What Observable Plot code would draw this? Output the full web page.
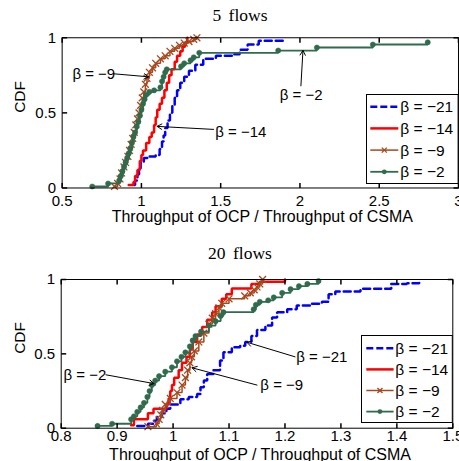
<!DOCTYPE html>
<html>
<head>
<meta charset="utf-8">
<script src="https://cdn.jsdelivr.net/npm/d3@7"></script>
<script src="https://cdn.jsdelivr.net/npm/@observablehq/plot@0.6"></script>
<style>
  html, body { margin: 0; padding: 0; background: #fff; overflow: hidden; width: 459px; height: 461px; }
  #page { position: relative; width: 459px; height: 461px; overflow: hidden; }
  .chart { position: absolute; left: 0; }
  .title { position: absolute; left: 0; width: 480px; text-align: center; line-height: 1;
           font-family: "Liberation Serif", "Times New Roman", serif; font-size: 17.5px; word-spacing: 3px; color: #000; }
  .legend { position: absolute; overflow: visible; }
</style>
</head>
<body>
<div id="page"></div>
<script>
// ---- Empirical CDF samples: [throughput ratio, cumulative fraction] ----

// 5 flows
const flows5_beta21 = [[0.955,0.02],[0.96,0.05],[0.975,0.09],[0.985,0.13],[0.995,0.17],[1.015,0.20],[1.05,0.21],[1.09,0.22],[1.115,0.26],[1.13,0.31],[1.14,0.35],[1.15,0.40],[1.165,0.45],[1.18,0.50],[1.195,0.55],[1.21,0.60],[1.225,0.65],[1.245,0.70],[1.27,0.74],[1.30,0.78],[1.34,0.82],[1.39,0.86],[1.47,0.88],[1.58,0.89],[1.62,0.92],[1.67,0.955],[1.74,0.98],[1.895,1.0]];
const flows5_beta14 = [[0.92,0.02],[0.95,0.04],[0.96,0.08],[0.975,0.12],[0.99,0.18],[1.0,0.22],[1.01,0.25],[1.03,0.30],[1.05,0.34],[1.065,0.37],[1.08,0.42],[1.09,0.47],[1.10,0.52],[1.115,0.56],[1.13,0.60],[1.145,0.65],[1.16,0.70],[1.175,0.75],[1.19,0.79],[1.21,0.84],[1.225,0.88],[1.245,0.91],[1.26,0.94],[1.275,0.97],[1.29,1.0]];
const flows5_beta9 = [[0.83,0.01],[0.85,0.03],[0.865,0.06],[0.875,0.10],[0.89,0.14],[0.90,0.17],[0.915,0.21],[0.925,0.25],[0.935,0.29],[0.945,0.33],[0.955,0.37],[0.965,0.42],[0.975,0.46],[0.985,0.50],[0.995,0.55],[1.005,0.60],[1.015,0.64],[1.025,0.69],[1.035,0.73],[1.05,0.77],[1.07,0.80],[1.09,0.83],[1.12,0.86],[1.15,0.88],[1.18,0.91],[1.21,0.93],[1.24,0.95],[1.27,0.965],[1.30,0.975],[1.33,0.99],[1.35,1.0]];
const flows5_beta2 = [[0.69,0.01],[0.79,0.03],[0.86,0.05],[0.87,0.08],[0.88,0.11],[0.89,0.14],[0.90,0.17],[0.91,0.20],[0.92,0.23],[0.93,0.26],[0.94,0.30],[0.95,0.34],[0.96,0.37],[0.97,0.41],[0.98,0.44],[0.99,0.48],[1.0,0.52],[1.01,0.56],[1.02,0.59],[1.03,0.62],[1.05,0.64],[1.08,0.65],[1.12,0.67],[1.13,0.71],[1.14,0.74],[1.15,0.77],[1.16,0.79],[1.25,0.81],[1.27,0.83],[1.31,0.85],[1.33,0.87],[1.365,0.90],[1.863,0.915],[2.107,0.935],[2.46,0.955],[2.806,0.97]];

// 20 flows
const flows20_beta21 = [[0.936,0.015],[0.955,0.03],[0.965,0.05],[0.971,0.075],[0.98,0.10],[0.988,0.13],[0.995,0.16],[1.013,0.195],[1.028,0.21],[1.043,0.23],[1.049,0.275],[1.055,0.32],[1.061,0.365],[1.072,0.39],[1.084,0.455],[1.09,0.51],[1.105,0.545],[1.12,0.555],[1.129,0.58],[1.14,0.62],[1.15,0.66],[1.165,0.69],[1.177,0.745],[1.186,0.78],[1.204,0.80],[1.221,0.825],[1.245,0.837],[1.266,0.85],[1.278,0.90],[1.29,0.92],[1.335,0.937],[1.39,0.97],[1.418,0.975],[1.44,0.99]];
const flows20_beta14 = [[0.925,0.02],[0.93,0.06],[0.955,0.10],[0.965,0.13],[0.988,0.16],[0.992,0.20],[0.995,0.25],[0.998,0.29],[1.002,0.34],[1.01,0.39],[1.016,0.44],[1.024,0.48],[1.03,0.53],[1.035,0.58],[1.043,0.63],[1.052,0.68],[1.061,0.73],[1.07,0.78],[1.076,0.82],[1.087,0.87],[1.095,0.90],[1.105,0.94],[1.14,0.97],[1.155,0.985],[1.20,1.0]];
const flows20_beta9 = [[0.955,0.01],[0.97,0.03],[0.975,0.06],[0.978,0.09],[0.981,0.12],[0.986,0.16],[0.995,0.20],[1.007,0.24],[1.016,0.29],[1.022,0.34],[1.026,0.39],[1.03,0.44],[1.033,0.48],[1.038,0.52],[1.046,0.58],[1.055,0.64],[1.064,0.70],[1.07,0.74],[1.076,0.77],[1.082,0.81],[1.087,0.84],[1.10,0.87],[1.128,0.89],[1.138,0.91],[1.145,0.93],[1.15,0.95],[1.155,0.97],[1.16,1.0]];
const flows20_beta2 = [[0.865,0.015],[0.891,0.03],[0.925,0.06],[0.93,0.08],[0.936,0.11],[0.942,0.14],[0.948,0.17],[0.954,0.21],[0.958,0.25],[0.962,0.29],[0.968,0.32],[0.975,0.35],[0.986,0.38],[0.998,0.41],[1.007,0.45],[1.015,0.48],[1.022,0.51],[1.03,0.55],[1.035,0.59],[1.04,0.62],[1.05,0.65],[1.064,0.69],[1.076,0.72],[1.085,0.755],[1.09,0.78],[1.144,0.80],[1.148,0.83],[1.155,0.85],[1.17,0.86],[1.18,0.88],[1.195,0.91],[1.21,0.935],[1.225,0.955],[1.24,0.97],[1.26,0.99]];

// Series names, in drawing order
const seriesNames = ["β = −21", "β = −14", "β = −9", "β = −2"];

// Axis ticks
const flows5_xTicks = [0.5, 1, 1.5, 2, 2.5, 3];
const flows20_xTicks = [0.8, 0.9, 1, 1.1, 1.2, 1.3, 1.4, 1.5];
const cdfTicks = [0, 0.5, 1];

// Text
const xLabel = "Throughput of OCP / Throughput of CSMA";
const yLabel = "CDF";
const titles = ["5 flows", "20 flows"];

// Arrow callouts (label position and arrow ends, in data units)
const flows5_notes = [
  {label: "β = −9",  anchor: "start",  tx: 0.565, ty: 0.76,  x1: 0.826, y1: 0.76,  x2: 1.046, y2: 0.74},
  {label: "β = −14", anchor: "start",  tx: 1.466, ty: 0.372, x1: 1.455, y1: 0.39,  x2: 1.099, y2: 0.41},
  {label: "β = −2",  anchor: "middle", tx: 2.008, ty: 0.616, x1: 2.006, y1: 0.68,  x2: 2.019, y2: 0.915}
];
const flows20_notes = [
  {label: "β = −2",  anchor: "start",  tx: 0.804, ty: 0.354, x1: 0.880, y1: 0.359, x2: 0.966, y2: 0.30},
  {label: "β = −9",  anchor: "start",  tx: 1.156, ty: 0.287, x1: 1.150, y1: 0.29,  x2: 1.034, y2: 0.406},
  {label: "β = −21", anchor: "start",  tx: 1.220, ty: 0.475, x1: 1.218, y1: 0.48,  x2: 1.132, y2: 0.578}
];

// ---- Styling ----
const FONT = '"Liberation Sans", Arial, Helvetica, sans-serif';
const seriesStyle = [
  {color: "#0000ff", width: 2.5, dash: "7,4", marker: null},
  {color: "#ff0000", width: 2.5, dash: null,  marker: null},
  {color: "#a5481e", width: 1.5, dash: null,  marker: "times"},
  {color: "#2f6b4c", width: 1.8, dash: null,  marker: "dot"}
];

// inward tick mark drawn as a custom dot symbol
const tickSymbol = (dx, dy) => ({draw(ctx) { ctx.moveTo(0, 0); ctx.lineTo(dx, dy); }});
const TL = 5;

function seriesMarks(samples) {
  const marks = [];
  samples.forEach((arr, i) => {
    const s = seriesStyle[i];
    const pts = arr.map(([x, y]) => ({x, y}));
    marks.push(Plot.line(pts, {x: "x", y: "y", curve: "step-after", stroke: s.color,
      strokeWidth: s.width, strokeDasharray: s.dash ?? undefined, strokeLinejoin: "miter"}));
    if (s.marker === "times") marks.push(Plot.dot(pts, {x: "x", y: "y", symbol: "times", r: 3.2, stroke: s.color, strokeWidth: 1.3}));
    if (s.marker === "dot") marks.push(Plot.dot(pts, {x: "x", y: "y", r: 2.6, fill: s.color, stroke: s.color, strokeWidth: 0.5}));
  });
  return marks;
}

function panel(cfg) {
  const [x0, x1] = cfg.xDomain;
  const notesBy = (a) => cfg.notes.filter(d => d.anchor === a);
  return Plot.plot({
    width: cfg.width, height: cfg.height,
    marginLeft: cfg.margin[0], marginTop: cfg.margin[1], marginRight: cfg.margin[2], marginBottom: cfg.margin[3],
    style: {fontFamily: FONT, fontSize: "15px", color: "#000", background: "transparent", overflow: "visible"},
    x: {domain: cfg.xDomain},
    y: {domain: [0, 1]},
    marks: [
      ...seriesMarks(cfg.samples),
      Plot.frame({stroke: "#000", strokeWidth: 1}),
      Plot.dot(cfg.xTicks, {x: d => d, y: 0, r: 1, symbol: tickSymbol(0, -TL), stroke: "#000", fill: "none"}),
      Plot.dot(cfg.xTicks, {x: d => d, y: 1, r: 1, symbol: tickSymbol(0, TL), stroke: "#000", fill: "none"}),
      Plot.dot(cdfTicks, {x: x0, y: d => d, r: 1, symbol: tickSymbol(TL, 0), stroke: "#000", fill: "none"}),
      Plot.dot(cdfTicks, {x: x1, y: d => d, r: 1, symbol: tickSymbol(-TL, 0), stroke: "#000", fill: "none"}),
      Plot.axisX({ticks: cfg.xTicks, tickSize: 0, tickPadding: cfg.tickPadX, tickFormat: d => String(d), label: null}),
      Plot.axisY({ticks: cdfTicks, tickSize: 0, tickPadding: 6, tickFormat: d => String(d), label: null}),
      Plot.text([xLabel], {frameAnchor: "bottom", lineAnchor: "top", dy: cfg.xLabelDy, dx: cfg.xLabelDx, fontSize: 16, text: d => d}),
      Plot.text([yLabel], {frameAnchor: "left", rotate: -90, dx: cfg.yLabelDx, fontSize: 15.5, text: d => d}),
      Plot.arrow(cfg.notes, {x1: "x1", y1: "y1", x2: "x2", y2: "y2", stroke: "#000", strokeWidth: 1, headLength: 8}),
      Plot.text(notesBy("start"),  {x: "tx", y: "ty", text: "label", textAnchor: "start"}),
      Plot.text(notesBy("middle"), {x: "tx", y: "ty", text: "label", textAnchor: "middle"})
    ]
  });
}

function legend(box) {
  const svg = d3.create("svg").attr("class", "legend")
    .attr("width", box.w).attr("height", box.h)
    .style("left", box.left + "px").style("top", box.top + "px");
  svg.append("rect").attr("x", 0.5).attr("y", 0.5).attr("width", box.w - 1).attr("height", box.h - 1)
    .attr("fill", "#fff").attr("stroke", "#000").attr("stroke-width", 1);
  seriesNames.forEach((name, i) => {
    const s = seriesStyle[i];
    const y = box.row0 + i * box.step;
    const g = svg.append("g");
    g.append("line").attr("x1", box.sx0).attr("x2", box.sx1).attr("y1", y).attr("y2", y)
      .attr("stroke", s.color).attr("stroke-width", s.width)
      .attr("stroke-dasharray", s.dash ? "7,3" : null);
    const mx = (box.sx0 + box.sx1) / 2;
    if (s.marker === "times") {
      g.append("path").attr("d", `M${mx-2.5},${y-2.5}L${mx+2.5},${y+2.5}M${mx-2.5},${y+2.5}L${mx+2.5},${y-2.5}`)
        .attr("stroke", s.color).attr("stroke-width", 1.3);
    }
    if (s.marker === "dot") g.append("circle").attr("cx", mx).attr("cy", y).attr("r", 2.4).attr("fill", s.color);
    g.append("text").attr("x", box.tx).attr("y", y).attr("dy", "0.35em")
      .attr("font-family", FONT).attr("font-size", 15.5).attr("fill", "#000").text(name);
  });
  return svg.node();
}

const page = document.getElementById("page");

const top5 = panel({
  xDomain: [0.5, 3], xTicks: flows5_xTicks,
  samples: [flows5_beta21, flows5_beta14, flows5_beta9, flows5_beta2],
  notes: flows5_notes,
  width: 459.5, height: 230, margin: [61.7, 37.3, 1, 42.3],
  tickPadX: 7.5, xLabelDy: 23, xLabelDx: 2, yLabelDx: -41.7
});
const wrap5 = document.createElement("div");
wrap5.className = "chart"; wrap5.style.top = "0px";
wrap5.appendChild(top5);
page.appendChild(wrap5);

const bottom20 = panel({
  xDomain: [0.8, 1.5], xTicks: flows20_xTicks,
  samples: [flows20_beta21, flows20_beta14, flows20_beta9, flows20_beta2],
  notes: flows20_notes,
  width: 459, height: 221, margin: [60.7, 39, 6.7, 33.3],
  tickPadX: 2.5, xLabelDy: 20.3, xLabelDx: 3, yLabelDx: -40.7
});
const wrap20 = document.createElement("div");
wrap20.className = "chart"; wrap20.style.top = "240px";
wrap20.appendChild(bottom20);
page.appendChild(wrap20);

page.appendChild(legend({left: 365.7, top: 94, w: 92.6, h: 90, row0: 12.7, step: 21.7, sx0: 4.3, sx1: 32.3, tx: 34.3}));
page.appendChild(legend({left: 360.7, top: 335, w: 91.8, h: 88, row0: 13.3, step: 21.1, sx0: 5.3, sx1: 32.6, tx: 34.3}));

[[titles[0], 7.3], [titles[1], 244.8]].forEach(([t, top]) => {
  const d = document.createElement("div");
  d.className = "title"; d.style.top = top + "px"; d.textContent = t;
  page.appendChild(d);
});
</script>
</body>
</html>
